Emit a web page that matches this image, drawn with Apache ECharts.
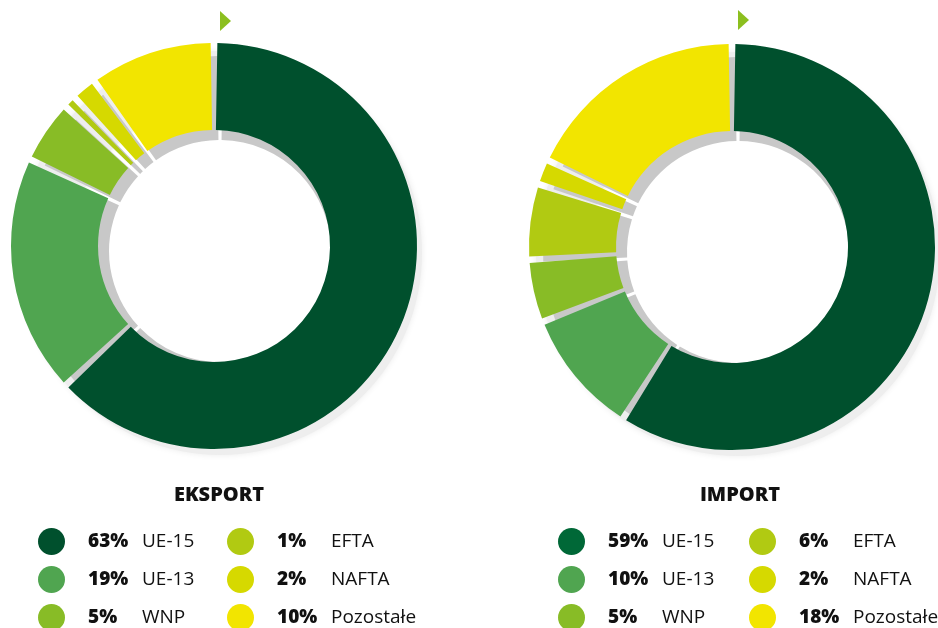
<!DOCTYPE html>
<html>
<head>
<meta charset="utf-8">
<script src="https://cdn.jsdelivr.net/npm/echarts@6/dist/echarts.min.js"></script>
<style>
	html, body { margin: 0; padding: 0; background: #fff; }
	#chart { width: 938px; height: 628px; }
</style>
</head>
<body>
<div id="chart"></div>
<script>
// dane z wykresu
var categories = [ 'UE-15', 'UE-13', 'WNP', 'EFTA', 'NAFTA', 'Pozostałe' ];
var eksportValues = [ 63, 19, 5, 1, 2, 10 ];
var importValues = [ 59, 10, 5, 6, 2, 18 ];
var sliceColors = [ '#00502d', '#50a550', '#88bc26', '#b1ca12', '#d6d900', '#f2e500' ];
var importDotColors = [ '#006837', '#50a550', '#88bc26', '#b1ca12', '#d6d900', '#f2e500' ];

var chart = echarts.init(document.getElementById('chart'));

var font = '"Open Sans", "Noto Sans", sans-serif';

// trzy warstwy: cien zewnetrzny, szary cien wewnetrzny, kolorowy pierscien
function donut(center, values) {
	var cx = center[0], cy = center[1];
	return [ {
		type : 'pie',
		silent : true,
		animation : false,
		center : [ cx + 6, cy + 7 ],
		radius : [ 150, 202 ],
		label : { show : false },
		itemStyle : {
			color : '#eeeeee',
			shadowBlur : 6,
			shadowColor : 'rgba(0,0,0,0.08)'
		},
		data : [ 1 ]
	}, {
		type : 'pie',
		silent : true,
		animation : false,
		startAngle : 90,
		padAngle : 1.6,
		center : [ cx + 6, cy + 5 ],
		radius : [ 111, 195 ],
		label : { show : false },
		itemStyle : {
			color : '#c8c8c8'
		},
		data : values.slice()
	}, {
		type : 'pie',
		animation : false,
		startAngle : 90,
		padAngle : 1.9,
		center : [ cx, cy ],
		radius : [ 116, 203 ],
		label : { show : false },
		labelLine : { show : false },
		emphasis : { disabled : true },
		data : categories.map(function(name, i) {
			return {
				name : name,
				value : values[i],
				itemStyle : { color : sliceColors[i] }
			};
		})
	} ];
}

function legendCol(left, from, to, values, dots) {
	var pct = {};
	categories.forEach(function(n, i) { pct[n] = values[i]; });
	var items = [];
	for (var i = from; i < to; i++) {
		items.push({ name : categories[i], itemStyle : { color : dots[i] } });
	}
	return {
		orient : 'vertical',
		left : left,
		top : 528,
		height : 140,
		padding : 0,
		itemGap : 11,
		itemWidth : 27,
		itemHeight : 27,
		icon : 'circle',
		selectedMode : false,
		data : items,
		formatter : function(name) {
			return '{s|}{b|' + pct[name] + '%}{n|' + name + '}';
		},
		textStyle : {
			fontFamily : font,
			fontSize : 19,
			color : '#111',
			rich : {
				s : { width : 18 },
				b : { width : 54, fontWeight : 800, fontSize : 19, fontFamily : font, color : '#111' },
				n : { fontSize : 19, fontFamily : font, color : '#111' }
			}
		}
	};
}

var option = {
	backgroundColor : '#fff',
	legend : [
		legendCol(38, 0, 3, eksportValues, sliceColors),
		legendCol(227, 3, 6, eksportValues, sliceColors),
		legendCol(558, 0, 3, importValues, importDotColors),
		legendCol(749, 3, 6, importValues, importDotColors)
	],
	graphic : [ {
		type : 'text',
		x : 219,
		y : 495,
		style : {
			text : 'EKSPORT',
			fill : '#111',
			font : '800 20px ' + font,
			textAlign : 'center',
			textVerticalAlign : 'middle'
		}
	}, {
		type : 'text',
		x : 740,
		y : 495,
		style : {
			text : 'IMPORT',
			fill : '#111',
			font : '800 20px ' + font,
			textAlign : 'center',
			textVerticalAlign : 'middle'
		}
	}, {
		type : 'polygon',
		shape : { points : [ [ 220, 11 ], [ 231, 21 ], [ 220, 31 ] ] },
		style : { fill : '#8cbf1f' }
	}, {
		type : 'polygon',
		shape : { points : [ [ 738, 10 ], [ 749, 20 ], [ 738, 30 ] ] },
		style : { fill : '#8cbf1f' }
	} ],
	series : donut([ 214, 246 ], eksportValues).concat(donut([ 732, 247 ], importValues))
};

chart.setOption(option);
</script>
</body>
</html>
